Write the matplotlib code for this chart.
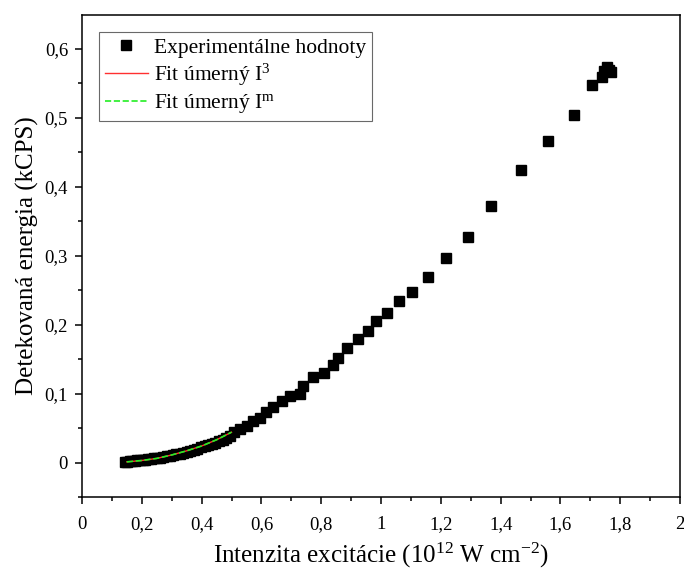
import matplotlib
matplotlib.use("Agg")
import matplotlib.pyplot as plt
from matplotlib.ticker import MultipleLocator, FuncFormatter

plt.rcParams['font.family'] = 'serif'
plt.rcParams['font.serif'] = ['Liberation Serif', 'DejaVu Serif']
plt.rcParams['mathtext.fontset'] = 'custom'
plt.rcParams['mathtext.rm'] = 'Liberation Serif'
plt.rcParams['mathtext.it'] = 'Liberation Serif:italic'

# measured points (intensity in 1e12 W/cm2, detected energy in kCPS)
intensity = [0.145, 0.152, 0.160, 0.168, 0.176, 0.185, 0.194, 0.203, 0.212, 0.222,
             0.232, 0.242, 0.252, 0.262, 0.272, 0.283, 0.294, 0.305, 0.316, 0.327,
             0.338, 0.350, 0.362, 0.374, 0.386, 0.398, 0.410, 0.422, 0.434, 0.446,
             0.458, 0.470, 0.482, 0.494, 0.508, 0.528, 0.552, 0.572, 0.595, 0.615,
             0.640, 0.669, 0.696, 0.730, 0.740, 0.772, 0.810, 0.840, 0.856, 0.886,
             0.923, 0.957, 0.983, 1.020, 1.060, 1.104, 1.157, 1.217, 1.290, 1.368,
             1.468, 1.559, 1.645, 1.706, 1.739, 1.746, 1.756, 1.762, 1.769]
energy = [0.001, 0.001, 0.002, 0.002, 0.002, 0.003, 0.003, 0.004, 0.004, 0.005,
          0.005, 0.006, 0.006, 0.007, 0.008, 0.009, 0.010, 0.011, 0.012, 0.013,
          0.014, 0.015, 0.017, 0.018, 0.020, 0.022, 0.024, 0.026, 0.027, 0.029,
          0.031, 0.033, 0.036, 0.039, 0.044, 0.049, 0.053, 0.060, 0.064, 0.073,
          0.080, 0.089, 0.0965, 0.100, 0.111, 0.124, 0.130, 0.141, 0.152, 0.166,
          0.179, 0.191, 0.205, 0.217, 0.234, 0.247, 0.269, 0.296, 0.327, 0.372,
          0.424, 0.466, 0.504, 0.548, 0.559, 0.568, 0.573, 0.569, 0.567]

# fitted curves over the low-intensity range
fit_x = [0.15, 0.20, 0.25, 0.30, 0.35, 0.40, 0.45, 0.50]
fit_cubic = [0.001, 0.003, 0.006, 0.011, 0.017, 0.024, 0.033, 0.044]
fit_power = [0.001, 0.003, 0.006, 0.011, 0.017, 0.024, 0.033, 0.044]

fig = plt.figure(figsize=(6.84, 5.74), dpi=100)
ax = fig.add_axes([0.1199, 0.1341, 0.8743, 0.8398])

ax.plot(intensity, energy, 's', color='black', ms=7.6, label='Experimentálne hodnoty')
ax.plot(fit_x, fit_cubic, '-', color='#ff3030', lw=1.0, label='Fit úmerný I$^3$')
ax.plot(fit_x, fit_power, '--', color='#22ee22', lw=1.2, label='Fit úmerný I$^{\\mathrm{m}}$')

ax.set_xlim(0, 2)
ax.set_ylim(-0.05, 0.649)
ax.xaxis.set_major_locator(MultipleLocator(0.2))
ax.xaxis.set_minor_locator(MultipleLocator(0.1))
ax.yaxis.set_major_locator(MultipleLocator(0.1))
ax.yaxis.set_minor_locator(MultipleLocator(0.05))
comma = FuncFormatter(lambda v, p: ('%g' % round(v, 3)).replace('.', ','))
ax.xaxis.set_major_formatter(comma)
ax.yaxis.set_major_formatter(comma)

ax.tick_params(which='both', direction='out', width=1.1, labelsize=13.5, top=False, right=False)
ax.tick_params(which='major', length=5)
ax.tick_params(which='minor', length=3)
ax.tick_params(axis='x', which='major', pad=9)
ax.tick_params(axis='y', which='major', pad=5)
for s in ax.spines.values():
    s.set_linewidth(1.1)

ax.set_xlabel('Intenzita excitácie (10$^{12}$ W cm$^{-2}$)', fontsize=18, labelpad=5)
ax.set_ylabel('Detekovaná energia (kCPS)', fontsize=18, labelpad=4)

leg = ax.legend(loc='upper left', fontsize=15.5, frameon=True, fancybox=False,
                edgecolor='#444444', borderpad=0.25, handlelength=2.0,
                handletextpad=0.3, labelspacing=0.2, borderaxespad=0.8)
leg.get_frame().set_linewidth(0.8)

fig.savefig('out.png', dpi=100)
